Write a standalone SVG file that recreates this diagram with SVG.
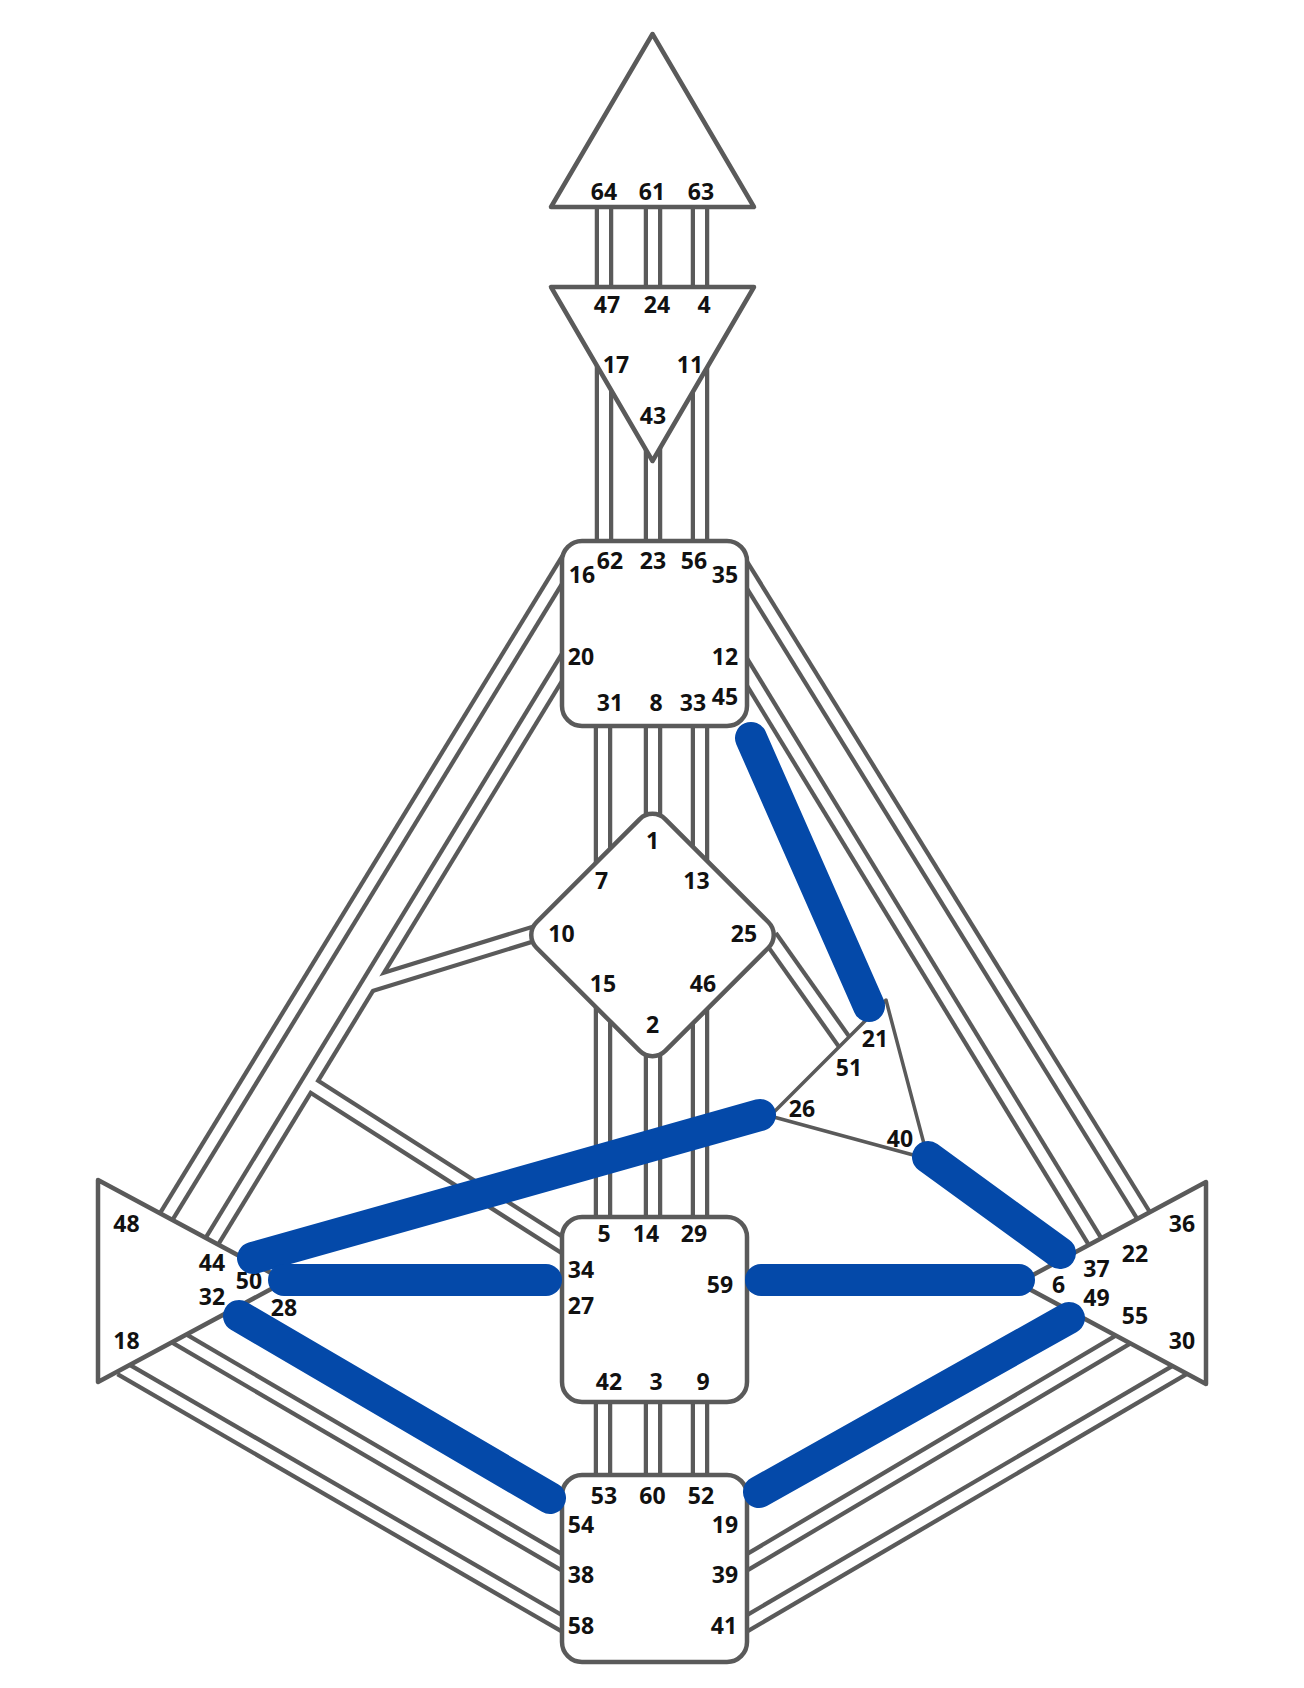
<svg xmlns="http://www.w3.org/2000/svg" xmlns:xlink="http://www.w3.org/1999/xlink" width="1304" height="1688" viewBox="0 0 1304 1688">
<defs>
<style>
.o{fill:none;stroke:#5a5a5a;stroke-width:18.5;stroke-linecap:butt}
.i{fill:none;stroke:#ffffff;stroke-width:10;stroke-linecap:butt}
.a{fill:none;stroke:#0449a9;stroke-width:32;stroke-linecap:round}
.n{fill:#ffffff;stroke:#5a5a5a;stroke-width:4.5;stroke-linejoin:round}
.h{fill:#ffffff;stroke:#5a5a5a;stroke-width:3.5;stroke-linejoin:round}
text{font-family:"Open Sans","Noto Sans","Liberation Sans",sans-serif;font-weight:700;font-size:23px;fill:#111111;text-anchor:middle}
</style>
<clipPath id="clipL"><rect x="0" y="0" width="562" height="1688"/></clipPath>
<clipPath id="clipR"><rect x="747" y="0" width="557" height="1688"/></clipPath>
<path id="c1" d="M604 200V295"/>
<path id="c2" d="M653 200V295"/>
<path id="c3" d="M700 200V295"/>
<path id="c4" d="M604 360V550"/>
<path id="c5" d="M653 440V550"/>
<path id="c6" d="M700 360V550"/>
<path id="c7" d="M603 715V880"/>
<path id="c8" d="M653 715V830"/>
<path id="c9" d="M700 715V880"/>
<path id="c10" d="M603 990V1230"/>
<path id="c11" d="M653 1040V1230"/>
<path id="c12" d="M700 990V1230"/>
<path id="c13" d="M603 1390V1490"/>
<path id="c14" d="M653 1390V1490"/>
<path id="c15" d="M700 1390V1490"/>
<path id="c16" d="M575 549L162 1223.5"/>
<path id="c17" d="M575 646L209 1246"/>
<path id="c18" d="M568 923.3L368 985"/>
<path id="c19" d="M308.5 1083L570 1250"/>
<path id="c20" d="M735 555.6L1147 1221"/>
<path id="c21" d="M735 652.4L1099 1248"/>
<path id="c22" d="M770 937L845 1043"/>
<path id="c23" d="M175 1336L570 1567"/>
<path id="c24" d="M121 1368L570 1628"/>
<path id="c25" d="M1129 1336L739 1567"/>
<path id="c26" d="M1183 1368L739 1628"/>
</defs>
<rect width="1304" height="1688" fill="#ffffff"/>
<g id="connectors">
<g class="o">
<use href="#c1"/><use href="#c2"/><use href="#c3"/><use href="#c4"/><use href="#c5"/><use href="#c6"/>
<use href="#c7"/><use href="#c8"/><use href="#c9"/><use href="#c10"/><use href="#c11"/><use href="#c12"/>
<use href="#c13"/><use href="#c14"/><use href="#c15"/>
<use href="#c16" clip-path="url(#clipL)"/><use href="#c17" clip-path="url(#clipL)"/><use href="#c18"/>
<use href="#c19"/><use href="#c20" clip-path="url(#clipR)"/><use href="#c21" clip-path="url(#clipR)"/><use href="#c22"/><use href="#c23"/><use href="#c24"/>
<use href="#c25"/><use href="#c26"/>
</g>
<g class="i">
<use href="#c1"/><use href="#c2"/><use href="#c3"/><use href="#c4"/><use href="#c5"/><use href="#c6"/>
<use href="#c7"/><use href="#c8"/><use href="#c9"/><use href="#c10"/><use href="#c11"/><use href="#c12"/>
<use href="#c13"/><use href="#c14"/><use href="#c15"/>
<use href="#c16" clip-path="url(#clipL)"/><use href="#c17" clip-path="url(#clipL)"/><use href="#c18"/>
<use href="#c19"/><use href="#c20" clip-path="url(#clipR)"/><use href="#c21" clip-path="url(#clipR)"/><use href="#c22"/><use href="#c23"/><use href="#c24"/>
<use href="#c25"/><use href="#c26"/>
</g>
</g>
<g id="head">
<polygon class="n" points="652.5,34 754,207 551,207"/>
<text x="604" y="200">64</text><text x="652" y="200">61</text><text x="701" y="200">63</text>
</g>
<g id="ajna">
<polygon class="n" points="551,287 754,287 652.5,461"/>
<text x="607" y="313">47</text><text x="657" y="313">24</text><text x="704" y="313">4</text>
<text x="616" y="373">17</text><text x="690" y="373">11</text><text x="653" y="424">43</text>
</g>
<g id="throat">
<rect class="n" x="562" y="541" width="185" height="185" rx="20"/>
<text x="582" y="583">16</text><text x="610" y="569">62</text><text x="653" y="569">23</text><text x="694" y="569">56</text><text x="725" y="583">35</text>
<text x="581" y="665">20</text><text x="725" y="665">12</text>
<text x="610" y="711">31</text><text x="656" y="711">8</text><text x="693" y="711">33</text><text x="725" y="705">45</text>
</g>
<g id="g-center">
<rect class="n" x="561.5" y="844" width="182" height="182" rx="18" transform="rotate(45 652.5 935)"/>
<text x="652.5" y="849">1</text><text x="601.5" y="889">7</text><text x="696.5" y="889">13</text>
<text x="561.5" y="942">10</text><text x="744" y="942">25</text>
<text x="603" y="992">15</text><text x="703" y="992">46</text><text x="652.5" y="1033">2</text>
</g>
<g id="heart">
<polygon class="h" points="886,1000 928,1159 770,1116"/>
<text x="875" y="1047">21</text><text x="849" y="1076">51</text><text x="802" y="1117">26</text><text x="900" y="1147">40</text>
</g>
<g id="spleen">
<polygon class="n" points="98,1180 286,1281 98,1382"/>
<text x="126.5" y="1232">48</text><text x="212" y="1271">44</text><text x="249" y="1289">50</text>
<text x="212" y="1305">32</text><text x="284" y="1316">28</text><text x="126.5" y="1349">18</text>
</g>
<g id="solar-plexus">
<polygon class="n" points="1206,1182 1206,1384 1018,1283"/>
<text x="1182" y="1232">36</text><text x="1135" y="1262">22</text><text x="1096.5" y="1277">37</text>
<text x="1058.5" y="1293">6</text><text x="1096.5" y="1306">49</text><text x="1135" y="1324">55</text><text x="1182" y="1349">30</text>
</g>
<g id="sacral">
<rect class="n" x="562" y="1217" width="185" height="185" rx="20"/>
<text x="604" y="1242">5</text><text x="646" y="1242">14</text><text x="694" y="1242">29</text>
<text x="581" y="1278">34</text><text x="581" y="1314">27</text><text x="720" y="1293">59</text>
<text x="609" y="1390">42</text><text x="656" y="1390">3</text><text x="703" y="1390">9</text>
</g>
<g id="root">
<rect class="n" x="562" y="1475" width="185" height="187" rx="20"/>
<text x="604" y="1504">53</text><text x="652.5" y="1504">60</text><text x="701" y="1504">52</text>
<text x="581" y="1533">54</text><text x="725" y="1533">19</text>
<text x="581" y="1583">38</text><text x="725" y="1583">39</text>
<text x="581" y="1634">58</text><text x="724" y="1634">41</text>
</g>
<g id="active-connectors" class="a">
<path d="M751 738L869 1006"/>
<path d="M253 1258L760 1115"/>
<path d="M284 1280H546"/>
<path d="M239 1316L550 1498"/>
<path d="M761 1280H1019"/>
<path d="M928 1157L1060 1253"/>
<path d="M1069 1318L759 1492"/>
</g>
</svg>
